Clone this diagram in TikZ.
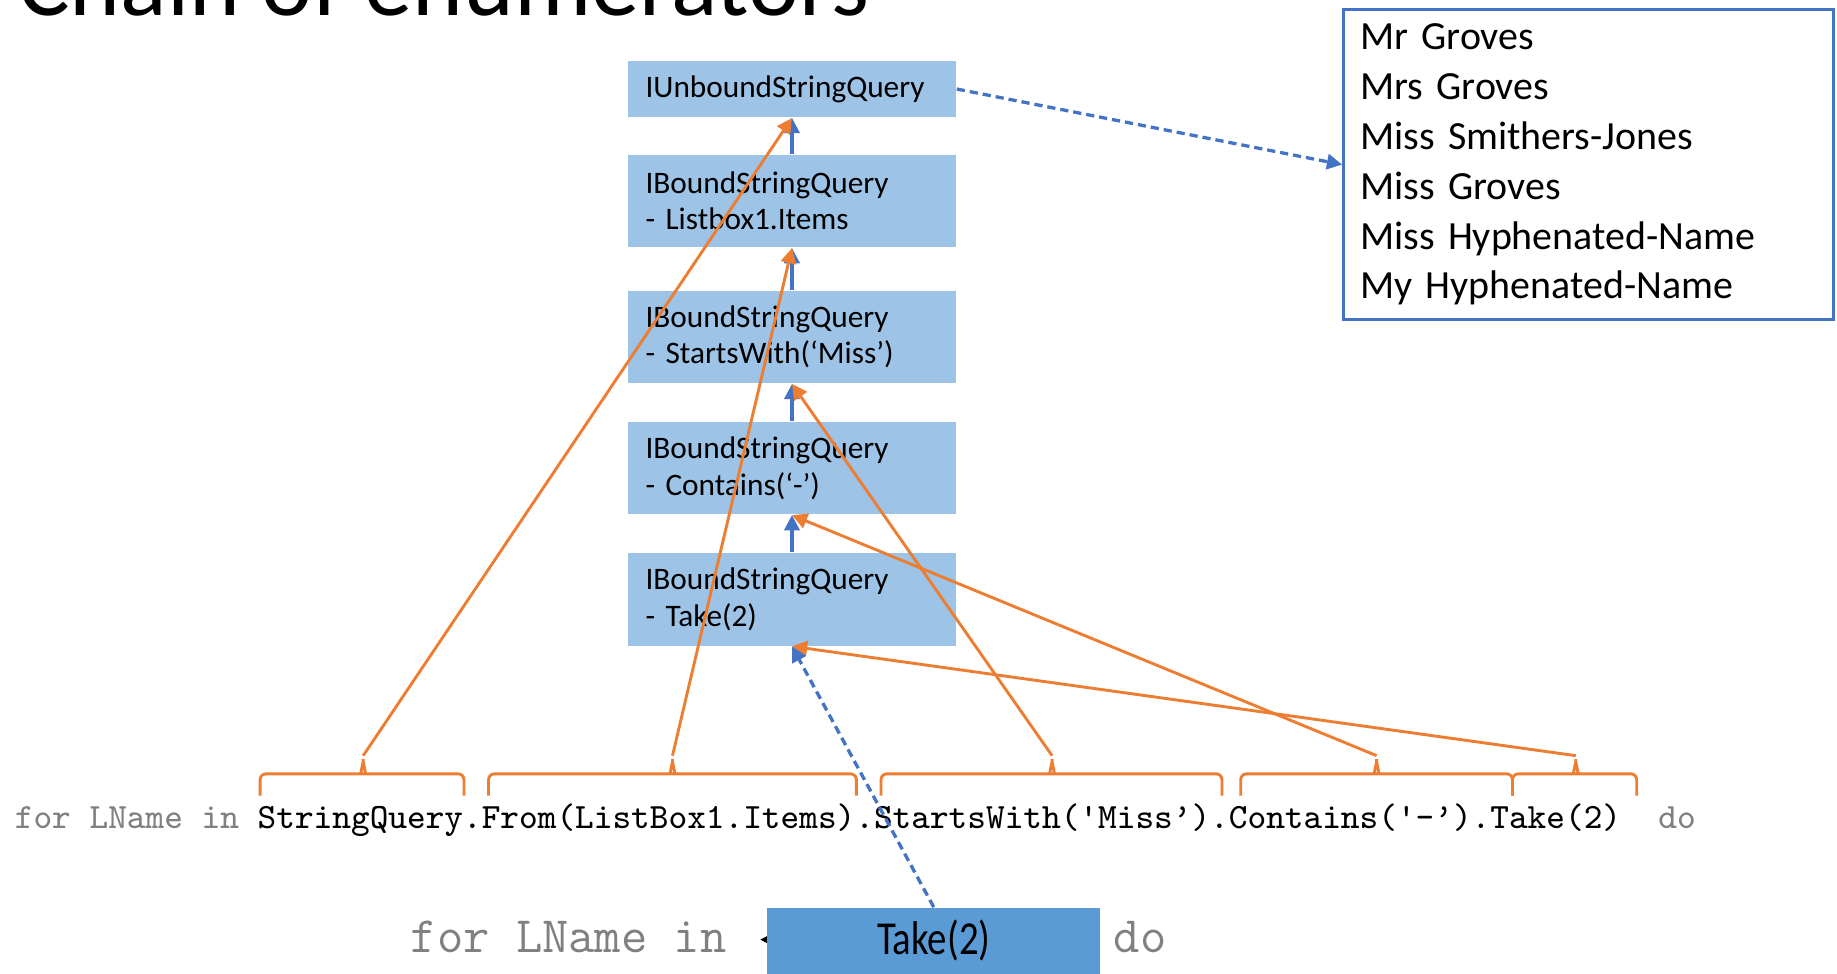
\documentclass[tikz,border=0pt]{standalone}
\usepackage{fontspec}
\setmainfont{Carlito}
\usepackage{tikz}
\usetikzlibrary{arrows.meta}

\definecolor{qfill}{HTML}{9DC3E6}
\definecolor{takefill}{HTML}{5B9BD5}
\definecolor{linkblue}{HTML}{4472C4}
\definecolor{braceorange}{HTML}{ED7D31}
\definecolor{codegray}{HTML}{808080}

\begin{document}
\begin{tikzpicture}[
            query/.style = {fill=qfill,
                        text width=2.5cm, inner xsep=0.15cm,
                        align=left, font=\fontsize{7.6}{8.9}\selectfont},
            up/.style = {linkblue, line width=0.8pt,
                        -{Triangle[length=0.13cm,width=0.13cm]}},
            hook/.style = {braceorange, line width=0.7pt,
                        -{Triangle[length=0.13cm,width=0.13cm]}},
            codebrace/.style = {braceorange, line width=0.7pt,
                        rounded corners=0.05cm},
            dashes/.style = {dash pattern=on 2pt off 1.2pt}]
            \useasboundingbox (0,0) rectangle (15.68,-8.31);
            \clip (0,0) rectangle (15.68,-8.31);

            % Title
            \node[anchor=base west, inner sep=0,
                font=\fontsize{23.5}{28}\selectfont] (title) at (0.15,-0.13) {Chain of enumerators};

            % Query chain
            \node[query, minimum height=0.48cm] (q1) at (6.76,-0.76) {IUnboundStringQuery};
            \node[query, minimum height=0.79cm] (q2) at (6.76,-1.715) {IBoundStringQuery\\- Listbox1.Items};
            \node[query, minimum height=0.79cm] (q3) at (6.76,-2.875) {IBoundStringQuery\\- StartsWith(‘Miss’)};
            \node[query, minimum height=0.79cm] (q4) at (6.76,-3.995) {IBoundStringQuery\\- Contains(‘-’)};
            \node[query, minimum height=0.79cm] (q5) at (6.76,-5.115) {IBoundStringQuery\\- Take(2)};
            \foreach \a/\b in {q2/q1, q3/q2, q4/q3, q5/q4}
                \draw[up] (\a.north) -- (\b.south);

            % Result list
            \node[draw=linkblue, line width=0.8pt, minimum width=4.18cm, minimum height=2.65cm,
                text width=3.9cm, inner xsep=0.14cm, align=left,
                font=\fontsize{9.7}{12.1}\selectfont] (names) at (13.56,-1.405)
                {Mr Groves\\Mrs Groves\\Miss Smithers-Jones\\Miss Groves\\Miss Hyphenated-Name\\My Hyphenated-Name};
            \draw[up, dashes] (q1.east) -- (names.west);

            % Code line
            \node[anchor=base west, inner sep=0,
                font=\ttfamily\fontsize{8.64}{10}\selectfont] (code) at (0.12,-7.07)
                {{\color{codegray}for LName in }StringQuery.From(ListBox1.Items).StartsWith('Miss’).Contains('-’).Take(2){\color{codegray}\ \ do}};

            % Braces over the code
            \foreach \l/\m/\r/\n in {2.22/3.10/3.96/brQuery, 4.17/5.74/7.31/brFrom,
                    7.52/8.98/10.43/brStarts, 10.59/11.75/12.91/brContains, 12.91/13.45/13.97/brTake}
                \draw[codebrace] (\l,-6.79) -- (\l,-6.605) -- ({\m-0.035},-6.605)
                    to[out=0,in=-90] (\m,-6.45) coordinate (\n)
                    to[out=-90,in=180] ({\m+0.035},-6.605) -- (\r,-6.605) -- (\r,-6.79);
            \draw[hook] (brQuery) -- (q1.south);
            \draw[hook] (brFrom) -- (q2.south);
            \draw[hook] (brStarts) -- (q3.south);
            \draw[hook] (brContains) -- (q4.south);
            \draw[hook] (brTake) -- (q5.south);

            % Short form
            \node[anchor=base west, inner sep=0, text=codegray,
                font=\ttfamily\fontsize{12.4}{14}\selectfont] (forin) at (3.50,-8.13) {for LName in};
            \node[anchor=base west, inner sep=0, text=codegray,
                font=\ttfamily\fontsize{12.4}{14}\selectfont] (doword) at (9.50,-8.13) {do};
            \draw[-{Triangle[length=0.06cm,width=0.06cm]}, line width=0.3pt] (6.70,-8.02) -- (6.49,-8.02);
            \node[fill=takefill, minimum width=2.84cm, minimum height=0.56cm, inner sep=0,
                font=\fontsize{11.5}{13}\selectfont] (takebox) at (7.97,-8.03) {\scalebox{0.82}[1]{Take(2)}};
            \draw[up, dashes] (takebox.north) -- (q5.south);
        \end{tikzpicture}
\end{document}
